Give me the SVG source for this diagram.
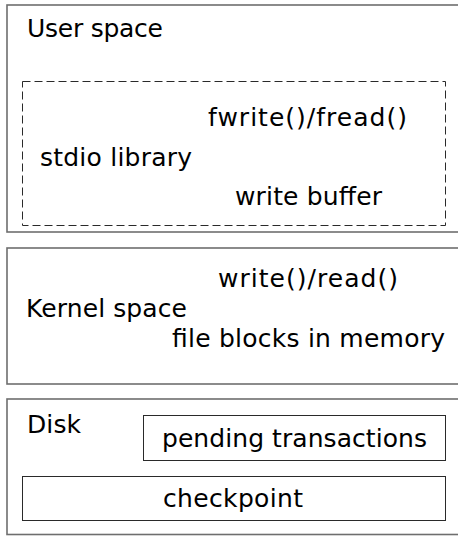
<svg xmlns="http://www.w3.org/2000/svg" width="458" height="536" viewBox="0 0 458 536">
<style>
.outer{fill:none;stroke:#6e6e6e;stroke-width:1.6}
.inner{fill:none;stroke:#2a2a2a;stroke-width:1}
.dash{fill:none;stroke:#2a2a2a;stroke-width:1;stroke-dasharray:8 4}
text{font-family:"DejaVu Sans","Liberation Sans",sans-serif;font-size:25px;fill:#000}
</style>
<rect width="458" height="536" fill="#fff"/>
<g id="user-space">
<rect class="outer" x="7" y="5" width="470" height="227"/>
<text x="27" y="37" textLength="136">User space</text>
</g>
<g id="stdio-library">
<rect class="dash" x="22.5" y="81.5" width="423" height="144"/>
<text x="40" y="166" textLength="152">stdio library</text>
<text x="208" y="126" textLength="199">fwrite()/fread()</text>
<text x="235" y="205" textLength="147">write buffer</text>
</g>
<g id="kernel-space">
<rect class="outer" x="7" y="248" width="470" height="136"/>
<text x="218" y="287" textLength="180">write()/read()</text>
<text x="26" y="317" textLength="161">Kernel space</text>
<text x="172" y="347" textLength="273">file blocks in memory</text>
</g>
<g id="disk">
<rect class="outer" x="7" y="399" width="470" height="135.5"/>
<text x="27" y="433" textLength="54">Disk</text>
</g>
<g id="pending-transactions">
<rect class="inner" x="143.5" y="415.5" width="302" height="45"/>
<text x="162" y="447" textLength="265">pending transactions</text>
</g>
<g id="checkpoint">
<rect class="inner" x="22.5" y="476.5" width="423" height="44"/>
<text x="163" y="507" textLength="140">checkpoint</text>
</g>
<g id="connectors"/>
</svg>
